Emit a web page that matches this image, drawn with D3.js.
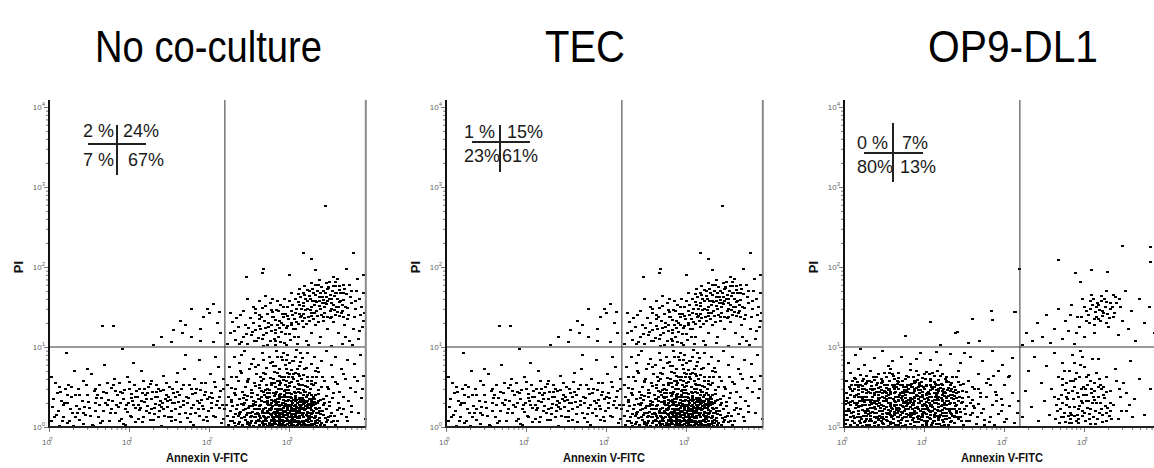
<!DOCTYPE html>
<html lang="en">
<head>
<meta charset="UTF-8">
<title>Annexin V / PI staining</title>
<script src="https://d3js.org/d3.v7.min.js"></script>
<style>
  body { margin: 0; background: #fff; }
  svg { display: block; font-family: "Liberation Sans", Arial, sans-serif; }
  .title { font-size: 44px; fill: #000; }
  .quad { font-size: 18px; fill: #1a1a1a; }
  .axis-label { font-size: 13px; font-weight: bold; fill: #111; }
  .tick-label { font-size: 8px; fill: #666; }
</style>
</head>
<body>
<div id="chart"></div>
<script>
// Panel titles and quadrant percentages (UL, UR, LL, LR)
const panelTitles = ["No co-culture", "TEC", "OP9-DL1"];
const quadrantText = [
  ["2 %", "24%", "7 %", "67%"],
  ["1 %", "15%", "23%", "61%"],
  ["0 %", "7%", "80%", "13%"]
];
const gateX = 158;   // Annexin V gate
const gateY = 10;    // PI gate
const majorTicks = [1, 10, 100, 1000, 10000];

// Events: [log10(Annexin V) * 100, log10(PI) * 100]
const noCoLowerLeft = [[2,8],[5,35],[8,55],[3,62],[11,20],[14,44],[17,12],[19,30],[22,5],[24,52],[27,38],[29,18],[31,70],[34,26],[36,47],[38,9],[41,33],[43,58],[45,15],[47,40],[50,24],[52,66],[54,3],[56,45],[58,30],[61,12],[63,52],[65,36],[67,20],[69,78],[71,42],[73,27],[75,8],[77,49],[79,33],[81,60],[83,17],[85,40],[86,25],[88,55],[90,10],[92,35],[94,46],[95,22],[97,63],[99,30],[101,14],[103,41],[105,28],[106,52],[108,6],[110,37],[112,21],[113,47],[115,33],[117,58],[118,12],[120,40],[122,26],[124,50],[125,18],[127,35],[129,44],[130,9],[132,29],[134,53],[135,38],[137,20],[139,45],[141,30],[142,64],[144,14],[146,40],[148,25],[150,50],[151,34],[153,7],[155,43],[157,22],[159,56],[161,31],[163,16],[165,47],[167,27],[169,72],[171,38],[173,11],[175,52],[177,24],[179,41],[181,60],[183,18],[185,33],[187,84],[189,46],[191,26],[193,9],[195,55],[197,35],[199,20],[201,66],[203,42],[205,14],[207,50],[209,28],[211,75],[213,38],[215,5],[217,48],[219,22],
  [84,28],[91,42],[98,19],[104,33],[109,45],[114,24],[119,31],[123,43],[128,22],[133,37],[138,28],[143,46],[147,33],[152,20],[158,38],[62,28],[68,44],[74,34],[44,25],[38,40],[26,22],[15,33],[9,15],[20,47],[33,12],[172,30],[178,48],[186,22],[194,40],[202,30],
  [21,93],[91,97],[105,80],[170,90],[208,88],[160,68],[115,70],[48,72],[12,1],[55,1],[95,2],[140,1],[180,2],[30,1],
  [4,25],[10,42],[16,8],[23,30],[28,50],[35,17],[42,4],[49,31],[57,20],[60,40],[66,8],[72,55],[78,22],[82,45],[89,30],[93,4],[100,48],[107,24],[111,10],[116,42],[121,20],[126,54],[131,16],[136,47],[140,25],[145,35],[149,12],[154,30],[160,44],[164,6],[168,33],[176,16],[182,42],[188,30],[196,12],[204,36],[212,24],[218,10],[190,55],[102,36]];

const noCoLowerLeftDense = [[6,12],[13,50],[18,27],[25,8],[32,40],[37,22],[46,52],[51,14],[59,36],[64,5],[70,30],[76,18],[80,52],[87,8],[89,44],[96,28],[100,56],[103,12],[107,38],[111,28],[116,6],[119,48],[121,35],[126,9],[128,58],[131,24],[134,44],[136,12],[139,33],[143,22],[146,55],[149,38],[152,12],[154,48],[156,30],[158,9],[162,40],[164,25],[168,52],[170,18],[174,36],[176,6],[180,28],[184,48],[187,14],[190,34],[192,22],[195,44],[198,8],[200,38],[203,24],[206,56],[208,12],[210,32],[214,45],[216,28],[218,60],[57,48],[42,18],[23,40]];

const noCoUpperLeft = [[66,126],[80,126],[153,106],[155,121],[164,133],[177,147],[170,128],[189,123],[192,138],[197,147],[205,154],[200,142],[212,144],[189,108],[178,113],[214,117],[210,130],[205,106],[166,117],[140,112],[130,103]];

const noCoUpperRight = [[223,104],[226,118],[229,131],[232,109],[236,125],[239,140],[242,113],[245,128],[248,104],[251,136],[254,119],[257,147],[259,108],[262,126],[265,138],[267,115],[270,151],[272,103],[274,130],[277,120],[279,144],[281,110],[283,134],[285,157],[287,124],[289,106],[291,141],[293,128],[295,116],[297,150],[299,135],[301,109],[303,145],[305,122],[307,160],[309,131],[311,113],[313,152],[315,139],[317,125],[319,165],[321,107],[323,147],[325,133],[327,118],[329,158],[331,142],[333,127],[335,170],[337,151],[339,112],[341,163],[343,138],[345,155],[347,122],[349,174],[351,145],[353,160],[355,131],[357,168],[359,150],[361,117],[363,176],[365,142],[367,159],[369,128],[371,166],[373,149],[375,108],[378,155],[381,137],[384,170],[387,120],[390,150],[393,132],
  [306,135],[309,148],[312,141],[314,162],[316,133],[318,155],[320,146],[322,171],[324,138],[326,160],[328,150],[330,135],[332,165],[334,145],[336,178],[338,157],[340,140],[342,170],[344,150],[346,162],[348,138],[350,181],[352,155],[354,170],[356,146],[358,176],[360,160],[362,139],[364,167],[366,152],[368,178],[311,156],[315,147],[319,136],[323,158],[327,143],[331,152],[335,139],[339,168],[343,159],[347,172],[351,165],[355,152],[359,168],[363,156],[357,181],[349,175],[341,155],[333,178],[325,170],[317,168],[313,173],
  [252,115],[255,130],[258,142],[261,111],[264,122],[266,149],[269,133],[271,118],[273,141],[276,108],[278,128],[280,137],[282,121],[284,146],[286,112],[288,133],[290,119],[292,150],[294,105],[296,124],[298,139],[300,116],[302,130],[304,153],[268,101],[282,102],[296,103],[310,104],[324,102],[338,105],[352,101],[366,104],[300,157],[286,145],[276,155],[262,157],
  [372,135],[376,162],[380,122],[383,148],[386,110],[388,160],[391,125],[394,142],[379,103],[370,112],[385,185],[375,178],
  [303,128],[307,143],[311,166],[314,137],[318,151],[321,129],[325,164],[328,139],[332,158],[336,131],[340,175],[344,143],[347,158],[351,136],[355,176],[358,140],[362,171],[366,145],[369,172],[345,167],[337,162],[329,172],[353,148],[361,150],[367,138],[308,122],[290,130],[283,117],[274,125],[266,110],[258,121],[246,116],[238,104],[295,141],[279,137],
  [345,276],[317,217],[328,210],[380,217],[392,190],[371,197],[332,196],[268,198],[266,193],[246,188],[300,190],[355,188]];

const noCoUpperRightDense = [[231,120],[240,106],[249,124],[256,108],[263,135],[270,124],[277,146],[283,108],[289,152],[293,137],[298,126],[304,140],[306,112],[311,129],[317,141],[320,160],[326,146],[330,168],[334,156],[339,148],[342,132],[346,154],[350,160],[353,138],[356,164],[360,144],[364,158],[367,167],[370,150],[374,140],[377,170],[383,158],[389,140],[392,168],[319,176],[327,180],[338,184],[346,180],[360,185],[302,168],[294,160],[285,128],[262,140],[255,150],[270,164],[279,160],[242,145],[234,136],[248,160],[226,143]];

const noCoLowerRight = [[224,3],[229,8],[233,1],[238,6],[241,2],[245,9],[248,4],[252,7],[255,1],[258,5],[261,9],[263,2],[266,6],[268,3],[271,8],[273,1],[275,5],[277,9],[279,2],[281,6],[283,4],[285,8],[286,1],[288,5],[290,3],[291,9],[293,6],[295,2],[296,7],[298,4],[300,1],[301,8],[303,5],[305,3],[306,9],[308,6],[310,2],[311,7],[313,4],[315,1],[316,8],[318,5],[320,3],[322,9],[324,6],[326,2],[328,7],[331,4],[334,1],[337,8],[340,5],[344,3],[348,9],[353,6],[358,2],[236,4],[250,2],[262,7],[270,4],[276,2],[282,8],[287,3],[292,6],[297,9],[302,3],[307,1],[312,5],[317,8],[321,2],[327,4],[332,8],[339,2],[346,6],
  [222,14],[226,20],[230,12],[234,23],[237,16],[240,11],[243,21],[246,15],[249,24],[251,12],[254,19],[256,13],[259,22],[261,16],[264,11],[266,20],[268,14],[270,24],[272,17],[274,12],[276,21],[278,15],[280,11],[281,19],[283,23],[284,14],[286,17],[287,12],[289,21],[290,16],[292,24],[293,13],[294,19],[296,11],[297,22],[298,15],[300,18],[301,12],[302,24],[304,16],[305,20],[306,13],[308,22],[309,17],[310,11],[312,20],[313,14],[315,23],[316,17],[318,12],[319,21],[321,15],[323,19],[324,11],[326,24],[328,16],[330,20],[332,13],[334,22],[336,17],[338,11],[341,20],[343,15],[346,23],[349,12],[352,18],[356,14],[360,21],[365,16],[371,12],[378,19],[256,23],[263,14],[269,18],[275,23],[279,13],[285,20],[288,15],[291,12],[295,20],[299,13],[303,21],[307,15],[311,24],[314,18],[317,13],[320,22],[325,14],[329,18],[333,24],[291,18],[294,15],[297,17],[301,20],[304,11],[282,16],[286,22],[309,20],[313,11],[318,18],[322,14],[327,21],[331,11],[248,18],[253,14],[239,19],[232,16],[244,13],[258,16],[266,17],[273,20],
  [221,28],[224,37],[228,31],[231,42],[235,27],[238,35],[241,44],[244,30],[247,39],[250,26],[252,43],[255,33],[257,28],[260,40],[262,35],[264,27],[267,44],[269,31],[271,38],[273,29],[275,42],[277,34],[279,26],[281,39],[282,31],[284,44],[286,28],[288,36],[289,41],[291,30],[293,38],[294,26],[296,43],[298,32],[299,37],[301,28],[303,41],[305,34],[306,26],[308,39],[310,30],[311,44],[313,35],[315,27],[317,40],[319,32],[321,37],[323,28],[325,43],[327,33],[330,38],[333,29],[336,41],[339,34],[342,27],[346,39],[350,31],[355,43],[361,30],[367,38],[374,33],[382,44],[390,36],[258,31],[265,38],[272,33],[278,30],[285,35],[290,27],[295,33],[300,42],[304,30],[309,34],[314,42],[318,29],[322,33],[326,27],[331,35],[335,30],[280,43],[287,39],[292,34],[297,28],[302,36],[307,43],[312,31],[316,36],[320,26],[328,40],[253,37],[246,34],[240,29],[233,40],[227,34],
  [223,52],[227,63],[232,48],[236,58],[240,67],[245,50],[249,60],[253,46],[256,55],[259,66],[262,49],[265,58],[268,68],[271,53],[273,47],[276,61],[278,55],[281,69],[283,50],[285,57],[288,64],[290,48],[292,59],[295,53],[297,67],[299,46],[302,56],[304,62],[306,50],[308,68],[311,54],[313,47],[315,60],[318,65],[320,51],[323,57],[326,48],[329,63],[332,55],[336,69],[340,50],[344,58],[349,47],[354,62],[360,54],[368,66],[376,49],[385,57],[392,64],[275,46],[287,52],[294,62],[300,51],[310,58],[317,46],[327,54],[264,63],[280,60],[296,57],[305,66],[312,52],[322,62],[270,46],[289,55],[258,51],[247,56],[234,62],
  [225,75],[231,88],[238,80],[244,95],[250,72],[255,85],[261,78],[266,92],[271,74],[275,87],[279,81],[284,95],[287,73],[291,84],[295,77],[298,90],[302,71],[305,82],[309,96],[312,76],[316,86],[319,72],[323,92],[327,79],[331,88],[335,74],[340,83],[346,95],[352,77],[358,87],[365,72],[373,84],[381,79],[389,90],[268,84],[282,76],[293,93],[300,80],[307,88],[314,81],[296,72],[285,87],[253,79],[240,90]];

// densest part of the apoptotic cluster
const noCoLowerRightCore = [[267,4],[271,11],[274,27],[277,7],[280,33],[283,19],[286,2],[288,26],[291,37],[293,8],[295,29],[298,21],[300,5],[302,33],[305,16],[307,28],[309,7],[312,36],[314,25],[316,3],[319,30],[321,9],[323,24],[325,35],[327,12],[330,27],[332,5],[334,17],[336,32],[268,22],[272,36],[276,16],[279,4],[282,27],[285,12],[289,7],[292,30],[294,3],[297,25],[299,34],[303,9],[306,22],[308,32],[311,5],[313,27],[316,15],[318,34],[320,7],[324,29],[326,18],[329,3],[331,31],[335,9],[338,24],[269,13],[273,31],[278,23],[284,29],[287,35],[290,22],[296,37],[301,26],[304,6],[310,18],[315,31],[319,4],[322,26],[328,35],[333,14],[281,9],[275,2],[263,26],[259,8],[255,29],[251,17],[247,6],[243,27],[339,16],[342,35],[345,11],[350,26],[355,7],[362,24],[294,45],[300,55],[286,48],[310,47],[278,52],[320,44],[305,60],[290,62],[283,41],[297,50],[312,64],[275,38],[265,45],[330,52],[268,8],[286,31],[292,15],[303,15],[309,25],[317,22],[325,3],[298,9],[280,18],[288,10],[301,37],[313,19],[321,31],[327,26]];

const noCoLowerRightBroad = [[226,8],[229,26],[233,47],[236,14],[239,70],[242,36],[245,22],[248,58],[251,5],[254,42],[257,75],[260,18],[263,52],[265,32],[268,60],[270,10],[273,42],[276,80],[278,24],[281,55],[283,12],[285,68],[288,40],[290,88],[292,20],[295,46],[297,7],[299,62],[302,28],[304,82],[306,44],[309,12],[311,66],[314,34],[316,52],[318,24],[321,74],[323,40],[325,10],[328,58],[330,30],[333,70],[336,46],[338,20],[341,62],[344,30],[347,50],[351,14],[354,36],[357,56],[360,8],[363,44],[367,22],[370,60],[373,8],[377,26],[381,62],[386,18],[391,48],[395,10],
  [262,22],[266,5],[269,40],[274,17],[279,9],[283,34],[287,18],[291,4],[294,40],[298,27],[303,12],[307,36],[312,23],[315,6],[319,44],[323,17],[328,30],[332,40],[335,5],[261,35],[257,12],[254,26],[244,40],[238,17],[231,5],[227,49],[300,66],[288,58],[276,28],[310,72],[322,50],[334,62],[270,66],[280,76],[296,84],[314,92]];

const op9LowerLeft = [[1,4],[4,9],[7,2],[10,7],[13,11],[16,3],[19,8],[22,1],[25,6],[28,10],[31,3],[34,8],[37,5],[40,11],[43,2],[46,7],[49,4],[52,9],[55,1],[58,6],[61,10],[64,3],[67,8],[70,5],[73,11],[76,2],[79,7],[82,4],[85,9],[88,1],[91,6],[94,10],[97,3],[100,8],[103,5],[106,11],[109,2],[112,7],[115,4],[118,9],[121,1],[124,6],[127,10],[130,3],[134,8],[138,5],[143,10],[149,2],[156,7],[165,4],[175,9],[188,3],[200,6],[12,5],[27,2],[42,9],[57,4],[72,1],[87,6],[102,2],[117,11],[132,6],[146,8],[38,1],[68,3],[96,9],[125,3],[110,5],
  [2,15],[5,22],[8,13],[11,19],[14,24],[17,16],[20,12],[23,21],[26,17],[29,23],[32,14],[35,19],[38,25],[41,13],[44,20],[47,16],[50,23],[53,12],[56,18],[59,24],[62,15],[65,21],[68,13],[71,19],[74,25],[77,16],[80,22],[83,12],[86,18],[89,24],[92,14],[95,20],[98,16],[101,23],[104,13],[107,19],[110,25],[113,15],[116,21],[119,12],[122,18],[125,24],[128,14],[131,20],[134,16],[137,23],[141,13],[145,19],[150,22],[157,15],[163,24],[171,18],[182,13],[196,20],[9,18],[24,14],[39,22],[54,16],[69,23],[84,15],[99,19],[114,18],[129,22],[140,17],[18,20],[33,17],[48,13],[63,19],[78,13],[93,23],[108,15],[123,21],[138,14],[45,24],[75,20],[105,21],[60,14],[90,17],[120,15],[30,20],[66,17],[96,13],[126,17],
  [1,29],[4,36],[7,27],[10,33],[13,39],[16,30],[19,26],[22,35],[25,31],[28,38],[31,28],[34,34],[37,40],[40,29],[43,36],[46,27],[49,33],[52,39],[55,30],[58,26],[61,35],[64,31],[67,38],[70,28],[73,34],[76,40],[79,29],[82,36],[85,27],[88,33],[91,39],[94,30],[97,26],[100,35],[103,31],[106,38],[109,28],[112,34],[115,40],[118,29],[121,36],[124,27],[127,33],[130,39],[133,30],[136,35],[140,28],[144,37],[148,31],[153,26],[160,34],[168,29],[178,38],[190,32],[8,31],[23,28],[38,33],[53,35],[68,32],[83,31],[98,37],[113,30],[128,36],[143,32],[17,37],[32,31],[47,38],[62,27],[77,33],[92,35],[107,27],[122,32],[137,39],[26,34],[41,32],[56,36],[71,36],[86,30],[101,28],[116,34],[131,29],[57,29],[87,38],[117,37],[35,37],[65,28],[95,33],[125,39],[44,30],[74,31],[104,36],
  [2,43],[6,50],[10,45],[14,52],[18,41],[22,48],[26,54],[30,44],[34,51],[38,42],[42,49],[46,55],[50,45],[54,52],[58,41],[62,48],[66,54],[70,43],[74,50],[78,46],[82,53],[86,42],[90,49],[94,55],[98,44],[102,51],[106,41],[110,47],[114,54],[118,45],[122,52],[126,43],[130,49],[134,55],[139,46],[145,52],[152,44],[160,50],[170,43],[183,53],[12,47],[28,46],[44,44],[60,52],[76,44],[92,46],[108,53],[124,48],[140,42],[20,53],[36,47],[52,42],[68,48],[84,50],[100,47],[116,43],[132,45],[40,53],[56,47],[72,53],[88,45],[104,43],[120,49],[64,44],[80,48],[96,51],[112,50],
  [3,58],[8,67],[13,61],[18,72],[23,57],[28,64],[33,70],[38,59],[43,66],[48,56],[53,63],[58,73],[63,60],[68,67],[73,57],[78,64],[83,71],[88,58],[93,65],[98,61],[103,69],[108,57],[113,64],[118,59],[123,66],[128,56],[135,62],[143,70],[155,58],[168,66],[180,60],[192,70],[206,64],[16,56],[36,62],[56,68],[76,60],[96,56],[116,70],[46,60],[66,57],[86,62],[106,66],[126,60],[31,57],[61,64],[91,59],
  [5,80],[14,90],[25,78],[37,86],[48,95],[60,82],[71,88],[83,79],[95,93],[107,84],[120,77],[132,91],[145,80],[158,88],[172,83],[185,95],[197,78],[210,86],[55,76],[90,85],[115,94],[150,92],[20,97],
  [152,8],[158,30],[162,48],[166,12],[170,38],[174,22],[178,55],[181,6],[185,28],[189,44],[193,16],[196,35],[200,52],[203,10],[206,26],[210,42],[213,5],[216,18],[218,33],[160,18],[175,2],[190,40],[205,62],[186,64],[198,28]];

// densest part of the live-cell cluster
const op9LowerLeftCore = [[15,28],[18,46],[21,10],[24,38],[27,55],[30,16],[33,42],[36,24],[39,6],[42,34],[45,50],[48,20],[51,44],[54,8],[57,36],[60,22],[63,52],[66,12],[69,40],[72,26],[75,46],[78,8],[81,30],[84,54],[87,20],[90,40],[93,10],[96,32],[99,50],[102,16],[105,44],[108,26],[111,8],[114,38],[117,52],[120,20],[123,34],[126,10],[129,46],[132,22],[135,40],[138,12],
  [16,12],[19,33],[22,51],[25,20],[28,43],[31,7],[34,29],[37,48],[40,17],[43,40],[46,11],[49,26],[52,49],[55,21],[58,44],[61,5],[64,28],[67,47],[70,15],[73,39],[76,23],[79,52],[82,13],[85,35],[88,47],[91,25],[94,43],[97,15],[100,29],[103,53],[106,20],[109,37],[112,12],[115,30],[118,47],[121,26],[124,43],[127,17],[130,33],[133,52],[136,23],[140,36],
  [20,37],[26,8],[32,48],[38,30],[44,14],[50,36],[56,46],[62,33],[68,20],[74,42],[80,34],[86,11],[92,50],[98,40],[104,24],[110,33],[116,14],[122,45],[128,28],[134,48],[47,58],[67,61],[87,55],[107,60],[127,57],[57,15],[77,30],[97,22],[117,25],[42,26],[62,18],[82,25],[102,41],[122,9],[137,30],[144,22],[148,45],[12,38],[9,52],[6,20],[3,33],[151,16],[155,38],[161,26],[167,47]];

const op9LowerLeftDense = [[2,9],[5,30],[8,47],[11,14],[14,60],[17,25],[20,5],[23,44],[26,28],[29,58],[32,10],[35,46],[38,18],[41,55],[44,36],[47,5],[50,52],[53,25],[56,58],[59,12],[62,42],[65,24],[68,56],[71,9],[74,30],[77,50],[80,15],[83,42],[86,28],[89,56],[92,6],[95,38],[98,28],[101,60],[104,8],[107,46],[110,20],[113,56],[116,36],[119,4],[122,40],[125,30],[128,62],[131,11],[134,36],[137,50],[140,20],[143,44],[146,30],[149,54],
  [3,20],[7,40],[10,58],[13,30],[17,50],[21,26],[24,60],[27,14],[30,34],[34,56],[37,12],[40,44],[43,26],[46,46],[49,10],[52,32],[55,46],[58,20],[61,50],[64,38],[67,24],[70,52],[73,18],[76,36],[79,44],[82,18],[85,50],[88,36],[91,12],[94,52],[97,38],[100,18],[103,40],[106,30],[109,50],[112,22],[115,46],[118,34],[121,54],[124,14],[127,38],[130,56],[133,18],[136,44],[139,26],[142,56],[145,12],[148,36],
  [15,40],[25,48],[35,30],[45,20],[55,40],[65,50],[75,12],[85,22],[95,46],[105,34],[115,52],[125,44],[135,14],[40,62],[60,66],[80,62],[100,66],[120,64],[20,65],[50,68],[90,70],[110,68],[140,62],[32,24],[52,18],[72,44],[92,30],[112,42],[132,40],[18,52],[28,20],[48,42],[68,34],[88,16],[108,10],[128,22],[22,33],[42,10],[62,26],[82,34],[102,26],[122,28],[138,50],[78,26],[58,30],[98,12],[118,20]];

const op9UpperLeft = [[76,114],[108,131],[139,117],[141,119],[184,145],[185,134],[169,108],[213,144],[214,144],[160,135],[155,105],[120,102]];

const op9UpperRight = [[222,102],[228,118],[235,108],[241,130],[247,112],[252,140],[258,105],[263,122],[268,148],[272,110],[276,133],[280,120],[284,152],[288,104],[291,138],[294,125],[297,160],[300,112],[303,145],[306,130],[309,165],[312,118],[315,150],[318,135],[321,158],[324,142],[327,170],[330,125],[333,148],[336,138],[339,162],[342,115],[345,150],[348,132],[351,170],[355,122],[359,145],[364,108],[369,160],[375,130],[381,150],[387,118],[393,140],
  [305,140],[310,152],[314,144],[319,146],[322,139],[326,150],[329,141],[316,155],[320,133],[308,158],[332,155],[325,160],[312,135],
  [303,132],[307,148],[311,160],[315,138],[318,152],[323,145],[327,156],[331,136],[335,150],[338,142],[300,150],[296,138],[340,155],[344,160],[313,128],[321,164],[328,130],[336,165],[290,118],[283,140],
  [347,226],[382,225],[382,206],[394,202],[268,209],[289,193],[295,181],[309,196],[329,194],[219,198]];

const op9LowerRight = [[222,12],[226,45],[230,70],[234,25],[238,88],[242,8],[246,55],[250,32],[253,76],[256,15],[259,48],[262,92],[265,28],[267,62],[269,5],[271,40],[273,80],[275,18],[277,55],[279,35],[281,70],[283,10],[285,45],[287,25],[289,60],[291,15],[293,38],[295,78],[297,20],[299,50],[301,8],[303,32],[305,65],[307,22],[309,42],[311,12],[313,55],[315,30],[317,85],[319,18],[321,48],[323,6],[325,36],[327,62],[329,24],[331,14],[333,45],[336,28],[339,72],[342,10],[345,38],[349,55],[353,20],[358,82],[363,35],[369,60],[375,15],[382,48],[389,75],[394,30],
  [270,22],[274,12],[278,28],[282,18],[286,35],[290,8],[294,26],[298,14],[302,40],[306,10],[310,30],[314,20],[318,38],[322,15],[326,26],[280,42],[288,50],[296,33],[304,52],[312,45],[320,30],[284,15],[292,22],[300,18],[308,4],[316,10],[276,6],[268,35],[272,52],[290,68],[300,75],[310,85],[285,90],[295,95],[264,10],[324,50],[328,8],[332,20],
  [272,30],[276,46],[281,25],[283,58],[287,14],[291,42],[294,62],[297,30],[301,48],[304,24],[307,58],[311,38],[314,4],[317,50],[321,22],[324,40],[281,5],[293,5],[305,32],[319,60],[275,70],[288,80],[298,88],[271,12],[327,44],[333,30],[340,58],[346,20],[352,42],[360,12],
  [266,20],[278,38],[286,58],[292,10],[299,40],[306,16],[313,34],[320,52],[327,18],[334,10],[273,60],[284,5],[302,62],[309,48],[280,14],[296,48],[315,68],[262,38],[344,48],[356,28]];

// TEC panel shows the same event cloud as the no co-culture panel
const noCoEvents = [...noCoLowerLeft, ...noCoLowerLeftDense, ...noCoUpperLeft, ...noCoUpperRight,
  ...noCoUpperRightDense, ...noCoLowerRight, ...noCoLowerRightCore, ...noCoLowerRightBroad];
const op9Events = [...op9LowerLeft, ...op9LowerLeftCore, ...op9LowerLeftDense, ...op9UpperLeft,
  ...op9UpperRight, ...op9LowerRight];
const panelEvents = [noCoEvents, noCoEvents, op9Events];

// layout
const width = 1154, height = 468;
const panelLeft = [49, 446, 844];
const plotBottom = 427, plotTop = 100, decade = 80;
const xMax = Math.pow(10, 3.96);
const titleLayout = [{x: 95, w: 227}, {x: 545, w: 80}, {x: 928, w: 170}];
const quadLayout = [
  {t: [[34, 137], [74, 137], [34, 166], [79, 166]], h: [39, 97, 144], v: [68, 125, 175]},
  {t: [[18, 138], [61, 138], [18, 161.5], [56, 161.5]], h: [26, 84, 142], v: [54, 125, 172]},
  {t: [[13, 149], [58, 149], [13, 173], [56, 173]], h: [20, 79, 153], v: [49, 123, 182]}
];

const svg = d3.select("#chart").append("svg")
  .attr("width", width).attr("height", height);

const minorTicks = [];
for (let d = 0; d < 4; d++) for (let k = 1; k <= 9; k++) minorTicks.push(k * Math.pow(10, d));
minorTicks.push(10000);

const toVal = v => Math.pow(10, v / 100);

panelTitles.forEach((title, i) => {
  const x0 = panelLeft[i];
  const x = d3.scaleLog().domain([1, 1e4]).range([x0, x0 + 4 * decade]);
  const y = d3.scaleLog().domain([1, 1e4]).range([plotBottom, plotBottom - 4 * decade]);
  const right = x(xMax);
  const g = svg.append("g");

  // title
  svg.append("text").attr("class", "title")
    .attr("x", titleLayout[i].x).attr("y", 62)
    .attr("textLength", titleLayout[i].w).attr("lengthAdjust", "spacingAndGlyphs")
    .text(title);

  // events
  g.append("g").selectAll("rect")
    .data(panelEvents[i])
    .join("rect")
    .attr("x", d => Math.round(x(toVal(d[0]))) - 1)
    .attr("y", d => Math.round(y(toVal(d[1]))) - 1)
    .attr("width", 3).attr("height", 2)
    .attr("fill", "#000")
    .attr("shape-rendering", "crispEdges");

  // gates
  g.append("line")
    .attr("x1", x0).attr("x2", right)
    .attr("y1", y(gateY)).attr("y2", y(gateY))
    .attr("stroke", "#777").attr("stroke-width", 1.5);
  g.append("line")
    .attr("x1", x(gateX)).attr("x2", x(gateX))
    .attr("y1", plotTop).attr("y2", plotBottom)
    .attr("stroke", "#333").attr("stroke-width", 1);

  // right border
  g.append("line")
    .attr("x1", right).attr("x2", right)
    .attr("y1", plotTop).attr("y2", plotBottom)
    .attr("stroke", "#8a8a8a").attr("stroke-width", 2);

  // y axis
  const yAxis = g.append("g").attr("transform", `translate(${x0},0)`)
    .call(d3.axisLeft(y).tickValues(minorTicks).tickSize(3).tickFormat(""));
  yAxis.select(".domain").remove();
  yAxis.selectAll(".tick line").attr("stroke", "#777")
    .attr("x2", d => majorTicks.includes(d) ? -5 : -3);
  g.append("line").attr("x1", x0).attr("x2", x0)
    .attr("y1", plotTop).attr("y2", plotBottom + 1)
    .attr("stroke", "#111").attr("stroke-width", 2);

  // x axis
  const xAxis = g.append("g").attr("transform", `translate(0,${plotBottom})`)
    .call(d3.axisBottom(x).tickValues(minorTicks.filter(v => v < xMax)).tickSize(3).tickFormat(""));
  xAxis.select(".domain").remove();
  xAxis.selectAll(".tick line").attr("stroke", "#777")
    .attr("y2", d => majorTicks.includes(d) ? 5 : 3);
  g.append("line").attr("x1", x0 - 1).attr("x2", right)
    .attr("y1", plotBottom).attr("y2", plotBottom)
    .attr("stroke", "#222").attr("stroke-width", 2);

  // tick labels
  majorTicks.forEach((t, k) => {
    const yl = g.append("text").attr("class", "tick-label")
      .attr("x", x0 - 4).attr("y", y(t) + 3).attr("text-anchor", "end");
    yl.append("tspan").text("10");
    yl.append("tspan").attr("font-size", 6).attr("dy", -4).text(k);
    if (t < xMax) {
      const xl = g.append("text").attr("class", "tick-label")
        .attr("x", x(t) - 7).attr("y", plotBottom + 18);
      xl.append("tspan").text("10");
      xl.append("tspan").attr("font-size", 6).attr("dx", -2).attr("dy", -4)
        .attr("font-style", "italic").text(k);
    }
  });

  // axis titles
  g.append("text").attr("class", "axis-label")
    .attr("transform", `translate(${x0 - 26},${y(100)}) rotate(-90)`)
    .attr("text-anchor", "middle").attr("font-size", 12).text("PI");
  g.append("text").attr("class", "axis-label")
    .attr("x", x0 + 158).attr("y", 462).attr("text-anchor", "middle")
    .attr("textLength", 82).attr("lengthAdjust", "spacingAndGlyphs")
    .text("Annexin V-FITC");

  // quadrant summary
  const q = quadLayout[i];
  quadrantText[i].forEach((s, k) => {
    g.append("text").attr("class", "quad")
      .attr("x", x0 + q.t[k][0]).attr("y", q.t[k][1]).text(s);
  });
  g.append("line").attr("x1", x0 + q.h[0]).attr("x2", x0 + q.h[1])
    .attr("y1", q.h[2]).attr("y2", q.h[2]).attr("stroke", "#222").attr("stroke-width", 2);
  g.append("line").attr("x1", x0 + q.v[0]).attr("x2", x0 + q.v[0])
    .attr("y1", q.v[1]).attr("y2", q.v[2]).attr("stroke", "#222").attr("stroke-width", 2);
});
</script>
</body>
</html>
